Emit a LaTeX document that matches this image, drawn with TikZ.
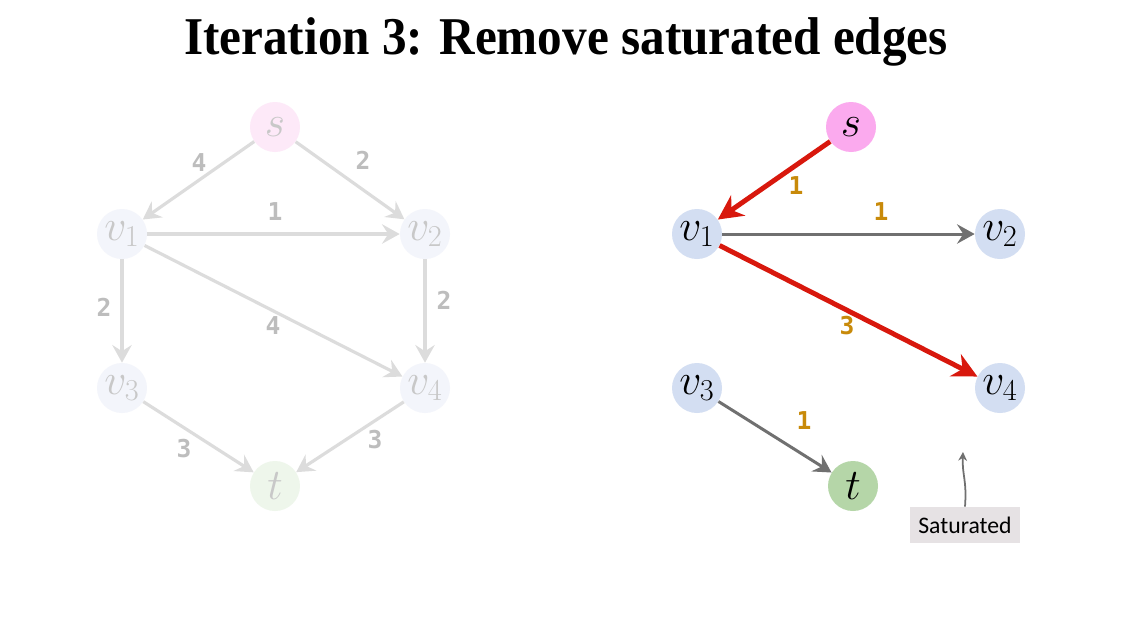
\documentclass[tikz,border=0pt]{standalone}
\usepackage{fontspec}
\setmainfont{Liberation Serif}
\newfontfamily\lblfont{DejaVu Sans Mono}
\newfontfamily\boxfont{Carlito}
\usetikzlibrary{arrows.meta}
\definecolor{ledge}{HTML}{DCDCDC}
\definecolor{llab}{HTML}{BDBDBD}
\definecolor{ltext}{HTML}{C8C8C8}
\definecolor{ls}{HTML}{FDE9F8}
\definecolor{lv}{HTML}{F3F5FB}
\definecolor{lt}{HTML}{EEF6EB}
\definecolor{rs}{HTML}{FBAAEE}
\definecolor{rv}{HTML}{D3DEF2}
\definecolor{rt}{HTML}{B5D6A8}
\definecolor{redge}{HTML}{D8180D}
\definecolor{gedge}{HTML}{707070}
\definecolor{orlab}{HTML}{C88A0A}
\definecolor{satbox}{HTML}{E6E2E4}
\tikzset{
  vtx/.style={circle,minimum size=1cm,inner sep=0pt,font=\fontsize{23}{26}\selectfont},
  lvtx/.style={vtx,text=ltext},
  lbl/.style={font=\lblfont\bfseries\fontsize{14}{16}\selectfont},
  ledgestyle/.style={draw=ledge,line width=1.8pt,-{Stealth[length=10pt,width=11pt,inset=3.5pt]}},
  gedgestyle/.style={draw=gedge,line width=1.7pt,-{Stealth[length=10pt,width=11pt,inset=3.5pt]}},
  redgestyle/.style={draw=redge,line width=2.8pt,-{Stealth[length=14pt,width=14pt,inset=4.5pt]}},
}
\begin{document}
\begin{tikzpicture}[x=0.02cm,y=-0.02cm]
\useasboundingbox[fill=white] (0,0) rectangle (1132,623);
\node[yscale=1.08] (title) at (566,42) {\fontsize{28}{32}\selectfont\bfseries Iteration 3: Remove saturated edges};
% left graph
\node[lvtx,fill=ls] (ls) at (275,127) {$s$};
\node[lvtx,fill=lv] (lv1) at (122,234) {$v_1$};
\node[lvtx,fill=lv] (lv2) at (425,234) {$v_2$};
\node[lvtx,fill=lv] (lv3) at (122,388) {$v_3$};
\node[lvtx,fill=lv] (lv4) at (425,388) {$v_4$};
\node[lvtx,fill=lt] (lt) at (275,486) {$t$};
\draw[ledgestyle] (ls) -- (lv1);
\draw[ledgestyle] (ls) -- (lv2);
\draw[ledgestyle] (lv1) -- (lv2);
\draw[ledgestyle] (lv1) -- (lv3);
\draw[ledgestyle] (lv1) -- (lv4);
\draw[ledgestyle] (lv2) -- (lv4);
\draw[ledgestyle] (lv3) -- (lt);
\draw[ledgestyle] (lv4) -- (lt);
\node[lbl,text=llab] (l1) at (199,163) {4};
\node[lbl,text=llab] (l2) at (363,160) {2};
\node[lbl,text=llab] (l3) at (275,212) {1};
\node[lbl,text=llab] (l4) at (104,307) {2};
\node[lbl,text=llab] (l5) at (273,326) {4};
\node[lbl,text=llab] (l6) at (444,300) {2};
\node[lbl,text=llab] (l7) at (184,449) {3};
\node[lbl,text=llab] (l8) at (375,440) {3};
% right graph
\node[vtx,fill=rs] (rs) at (851,127) {$s$};
\node[vtx,fill=rv] (rv1) at (697,234) {$v_1$};
\node[vtx,fill=rv] (rv2) at (1000,234) {$v_2$};
\node[vtx,fill=rv] (rv3) at (697,388) {$v_3$};
\node[vtx,fill=rv] (rv4) at (1000,388) {$v_4$};
\node[vtx,fill=rt] (rt) at (853,486) {$t$};
\draw[redgestyle] (rs) -- (rv1);
\draw[gedgestyle] (rv1) -- (rv2);
\draw[redgestyle] (rv1) -- (rv4);
\draw[gedgestyle] (rv3) -- (rt);
\node[lbl,text=orlab] (r1) at (796,186) {1};
\node[lbl,text=orlab] (r2) at (881,212) {1};
\node[lbl,text=orlab] (r3) at (847,326) {3};
\node[lbl,text=orlab] (r4) at (804,421) {1};
% saturated callout
\node[fill=satbox,inner sep=0pt,minimum height=0.72cm,text width=2.2cm,align=center,font=\boxfont\fontsize{13.5}{15}\selectfont] (sat) at (965,525) {Saturated};
\coordinate (satend) at (963,452);
\draw[draw=gedge,line width=1pt,-{Stealth[length=5pt,width=5pt]}] (sat.north) .. controls (967,480) and (962,475) .. (satend);
\end{tikzpicture}
\end{document}
